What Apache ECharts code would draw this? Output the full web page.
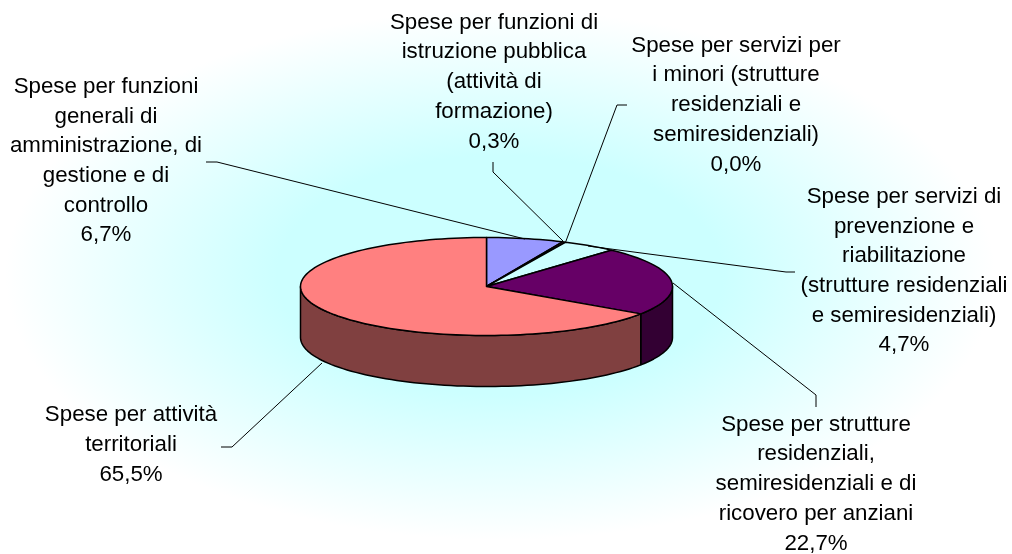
<!DOCTYPE html>
<html>
<head>
<meta charset="utf-8">
<title>Spese</title>
<script src="https://cdn.jsdelivr.net/npm/echarts@6/dist/echarts.min.js"></script>
<style>
    html, body { margin: 0; padding: 0; background: #fff; }
    #main {
        width: 1012px;
        height: 554px;
        background: radial-gradient(ellipse 495px 265px at 500px 275px, #ccffff 0%, #ccffff 45%, #ffffff 100%);
    }
</style>
</head>
<body>
<div id="main"></div>
<script>
// data, clockwise from 12 o'clock
var categories = [
    'Spese per funzioni\ngenerali di\namministrazione, di\ngestione e di\ncontrollo',
    'Spese per funzioni di\nistruzione pubblica\n(attività di\nformazione)',
    'Spese per servizi per\ni minori (strutture\nresidenziali e\nsemiresidenziali)',
    'Spese per servizi di\nprevenzione e\nriabilitazione\n(strutture residenziali\ne semiresidenziali)',
    'Spese per strutture\nresidenziali,\nsemiresidenziali e di\nricovero per anziani',
    'Spese per attività\nterritoriali'
];
var values = [6.7, 0.3, 0.0, 4.7, 22.7, 65.5];

var topColors = ['#9999ff', '#993366', '#ffffcc', '#ccffff', '#660066', '#ff8080'];
var sideColors = ['#4c4c80', '#4c1933', '#808066', '#668080', '#330033', '#804040'];

// label centre and leader polyline for each slice
var labelCenters = [[106, 161], [494, 82], [736, 105], [904, 271], [816, 484], [131, 445]];
var leaders = [
    [[206, 162], [217, 162], [525, 239]],
    [[493, 162], [493, 172], [563, 241]],
    [[627, 105], [617, 105], [566, 241]],
    [[795, 272], [786, 272], [588, 246]],
    [[816, 407], [816, 395], [673, 283]],
    [[221, 447], [232, 447], [322, 363]]
];

var cx = 486.5, cy = 286.5, rx = 186, ry = 49, depth = 51;
var total = values.reduce(function (a, b) { return a + b; }, 0);

function point(deg, dy) {
    var t = deg * Math.PI / 180;
    return [cx + rx * Math.sin(t), cy - ry * Math.cos(t) + (dy || 0)];
}

function arc(from, to, dy) {
    var pts = [];
    var n = Math.max(1, Math.ceil((to - from) / 2));
    for (var i = 0; i <= n; i++) {
        pts.push(point(from + (to - from) * i / n, dy));
    }
    return pts;
}

function renderItem(params, api) {
    var i = params.dataIndex;
    var before = 0;
    for (var k = 0; k < i; k++) {
        before += api.value(0, k);
    }
    var value = api.value(0);
    var start = before / total * 360;
    var end = (before + value) / total * 360;
    var children = [];

    // outer wall, only the part facing front
    var a = Math.max(start, 90), b = Math.min(end, 270);
    if (b > a) {
        var front = arc(a, b, 0);
        children.push({
            type: 'polygon',
            shape: { points: front.concat(arc(a, b, depth).reverse()) },
            style: { fill: sideColors[i], stroke: '#000', lineWidth: 1.5, lineJoin: 'round' }
        });
    }
    children.push({
        type: 'polygon',
        shape: { points: [[cx, cy]].concat(arc(start, end, 0)) },
        style: { fill: topColors[i], stroke: '#000', lineWidth: 1.5, lineJoin: 'round' }
    });
    return { type: 'group', children: children };
}

function renderLabel(params, api) {
    var i = params.dataIndex;
    var text = categories[i] + '\n' + api.value(0).toFixed(1).replace('.', ',') + '%';
    return {
        type: 'group',
        children: [{
            type: 'polyline',
            shape: { points: leaders[i] },
            style: { fill: null, stroke: '#000', lineWidth: 1 }
        }, {
            type: 'text',
            style: {
                text: text,
                x: labelCenters[i][0],
                y: labelCenters[i][1],
                align: 'center',
                verticalAlign: 'middle',
                fontFamily: 'Liberation Sans',
                fontSize: 22.3,
                lineHeight: 29.7,
                fill: '#000'
            }
        }]
    };
}

var chart = echarts.init(document.getElementById('main'));

chart.setOption({
    animation: false,
    series: [{
        type: 'custom',
        coordinateSystem: 'none',
        renderItem: renderItem,
        data: values.map(function (v) { return [v]; }),
        silent: true,
        z: 2
    }, {
        type: 'custom',
        coordinateSystem: 'none',
        renderItem: renderLabel,
        data: values.map(function (v) { return [v]; }),
        silent: true,
        z: 3
    }]
});
</script>
</body>
</html>
